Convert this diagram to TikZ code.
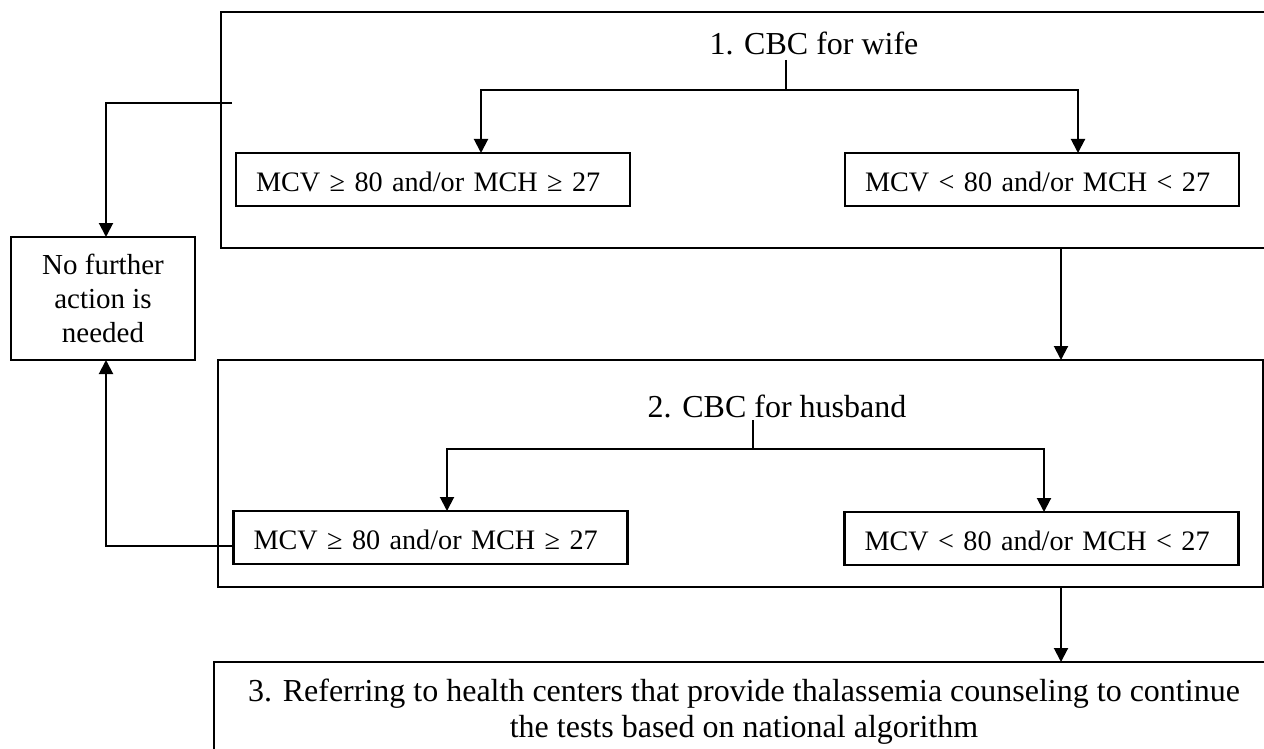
\documentclass[tikz,border=0pt]{standalone}
\usepackage{fontspec}
\setmainfont{Liberation Serif}
\usetikzlibrary{arrows.meta}
\begin{document}
\begin{tikzpicture}[x=1pt,y=-1pt,
  bigbox/.style={draw, line width=1.6pt, rectangle, inner sep=0pt, outer sep=0pt},
  valbox/.style={draw, line width=2.4pt, rectangle, text width=354pt, inner xsep=20pt, inner ysep=0pt,
    minimum height=53pt, align=left, text height=23pt, text depth=0pt, outer sep=0pt,
    font=\fontsize{28.2}{34}\selectfont},
  nfbox/.style={draw, line width=2pt, rectangle, minimum width=184pt, minimum height=123pt,
    inner sep=0pt, outer sep=0pt, align=center, font=\fontsize{29}{34}\selectfont},
  title/.style={inner sep=0pt, font=\fontsize{32}{36}\selectfont},
  arr/.style={line width=2pt, -{Triangle[width=14pt,length=14pt]}},
  stemline/.style={line width=1.6pt}
]
\useasboundingbox (0,0) rectangle (1264,749);
\clip (0,0) rectangle (1264,749);
% big frames
\node[bigbox, minimum width=1054pt, minimum height=236pt] (B1) at (748,130) {};
\node[bigbox, minimum width=1045pt, minimum height=227pt] (B2) at (740.5,473.5) {};
\node[bigbox, minimum width=1066pt, minimum height=108pt] (B3) at (747,716) {};
% titles
\node[title, anchor=base] (t1) at (814,55) {1. CBC for wife};
\node[title, anchor=base] (t2) at (777,417) {2. CBC for husband};
\node[title, align=center] (t3) at (744,712) {3. Referring to health centers that provide thalassemia counseling to continue\\the tests based on national algorithm};
% value boxes
\node[valbox] (b1L) at (433,179.5) {\mbox{MCV ≥ 80 and/or MCH ≥ 27}};
\node[valbox] (b1R) at (1042,179.5) {\mbox{MCV < 80 and/or MCH < 27}};
\node[valbox] (b2L) at (430.5,537.5) {\mbox{MCV ≥ 80 and/or MCH ≥ 27}};
\node[valbox] (b2R) at (1041.5,538.5) {\mbox{MCV < 80 and/or MCH < 27}};
% side box
\node[nfbox] (nf) at (103,298.5) {No further\\action is\\needed};
% helper coordinates
\coordinate (s1) at (786,60);
\coordinate (j1) at (786,90);
\coordinate (s2) at (753,420);
\coordinate (j2) at (753,449);
\coordinate (e1) at (232,103);
\coordinate (vx) at (1061,0);
% connectors
\draw[stemline] (s1) -- (j1);
\draw[arr] (j1) -| ([xshift=48pt]b1L.north);
\draw[arr] (j1) -| ([xshift=36pt]b1R.north);
\draw[stemline] (s2) -- (j2);
\draw[arr] (j2) -| ([xshift=16.5pt]b2L.north);
\draw[arr] (j2) -| ([xshift=2.5pt]b2R.north);
\draw[arr] (e1) -| ([xshift=3pt]nf.north);
\draw[arr] ([yshift=-8.5pt]b2L.west) -| ([xshift=3pt]nf.south);
\draw[arr] (vx |- B1.south) -- (vx |- B2.north);
\draw[arr] (vx |- B2.south) -- (vx |- B3.north);
\end{tikzpicture}
\end{document}
